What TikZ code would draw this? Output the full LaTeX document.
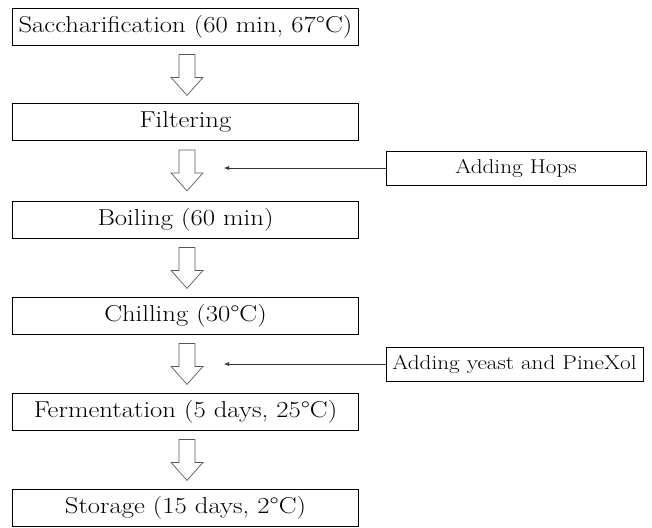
\documentclass[tikz,border=0pt]{standalone}
\usepackage{fontspec}
\setmainfont{lmroman17-regular.otf}[FakeStretch=1.16]
\usepackage{tikz}
\usetikzlibrary{calc,arrows.meta}

\newcommand{\hollowdown}[1]{\draw[hollow] #1 ++(-8,0) -- ++(0,23) -- ++(-8,0) -- ++(16,18) -- ++(16,-18) -- ++(-8,0) -- ++(0,-23) -- cycle;}

\begin{document}
\begin{tikzpicture}[x=1pt, y=-1pt,
		stepbox/.style = {draw, line width=0.8pt, minimum width=346pt, minimum height=37pt, inner sep=0pt, font=\fontsize{23}{26}\selectfont},
		sidebox/.style = {draw, line width=0.8pt, minimum height=34pt, inner sep=0pt, font=\fontsize{20}{24}\selectfont},
		hollow/.style = {draw=black!65, line width=0.7pt, fill=white},
		feed/.style = {draw=black!80, line width=0.6pt, -{Latex[length=5pt, width=4pt]}}]
		\useasboundingbox (0,0) rectangle (652,527);
		\node[stepbox] (sacch) at (185.5, 26.5) {Saccharification (60 min, 67\textdegree C)};
		\node[stepbox] (filt) at (185.5, 122) {Filtering};
		\node[stepbox] (boil) at (185.5, 219.5) {Boiling (60 min)};
		\node[stepbox] (chill) at (185.5, 315.5) {Chilling (30\textdegree C)};
		\node[stepbox] (ferm) at (185.5, 411.5) {Fermentation (5 days, 25\textdegree C)};
		\node[stepbox] (stor) at (185.5, 508) {Storage (15 days, 2\textdegree C)};
		\node[sidebox, minimum width=260pt] (hops) at (516, 168) {Adding Hops};
		\node[sidebox, minimum width=257pt] (yeast) at (514.5, 364) {Adding yeast and PineXol};
		\foreach \a in {sacch, filt, boil, chill, ferm}
			\hollowdown{($(\a.south)+(1.5,9)$)};
		\coordinate (hopsend) at (224, 0);
		\coordinate (yeastend) at (224, 0);
		\draw[feed] (hops.west) -- (hops.west -| hopsend);
		\draw[feed] (yeast.west) -- (yeast.west -| yeastend);
\end{tikzpicture}
\end{document}
